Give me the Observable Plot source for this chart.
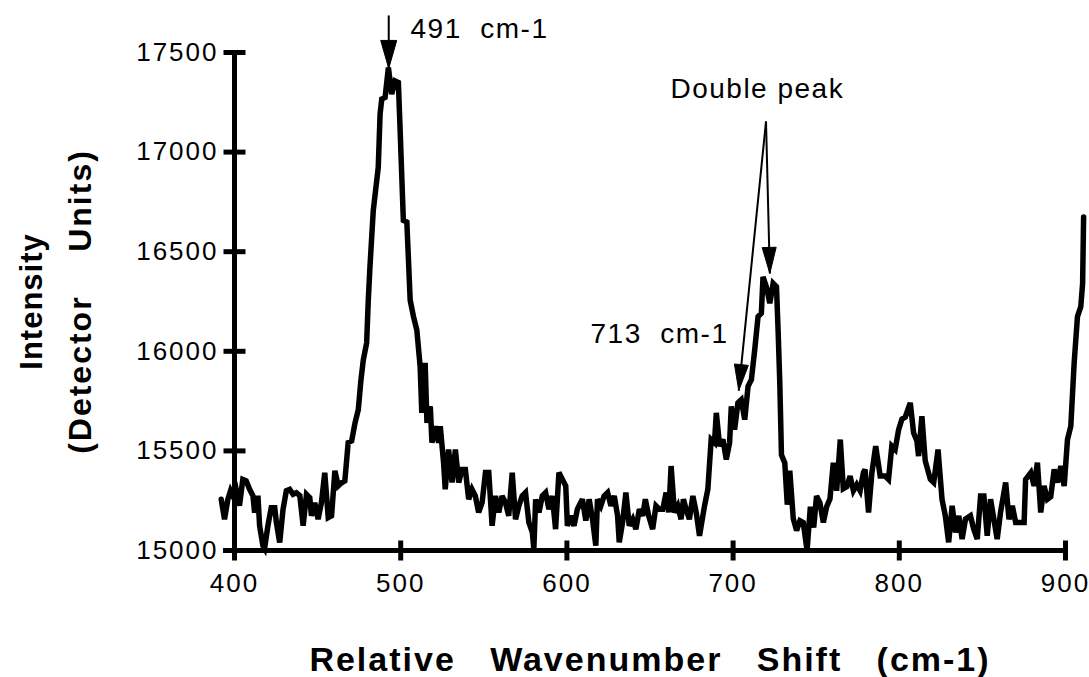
<!DOCTYPE html>
<html><head><meta charset="utf-8">
<script src="https://cdn.jsdelivr.net/npm/d3@7"></script>
<script src="https://cdn.jsdelivr.net/npm/@observablehq/plot@0.6"></script>
<style>body{margin:0;background:#fff;}</style>
</head><body><div id="chart"></div>
<script>
const wavenumber = [
392.0,394.0,396.0,397.6,399.0,401.0,403.0,405.0,407.0,409.1,
411.1,412.1,414.1,415.1,417.1,418.1,420.1,422.1,424.2,425.2,
427.2,429.2,431.2,433.2,435.2,437.2,439.3,441.3,443.3,445.3,
446.3,448.3,450.3,452.3,454.3,456.4,458.4,460.4,462.4,464.4,
466.4,468.4,470.5,472.5,474.5,476.0,477.5,479.5,480.5,481.5,
483.5,486.5,487.6,488.6,490.6,492.6,494.6,496.6,498.6,499.6,
501.6,503.7,505.7,507.7,509.7,511.7,512.7,514.7,515.8,517.8,
518.8,520.8,522.8,523.8,525.8,526.8,528.8,530.9,532.9,534.9,
536.9,538.9,540.9,542.9,544.9,546.9,549.0,551.0,553.0,555.0,
557.0,559.0,561.0,563.0,565.0,567.1,569.1,571.1,573.1,575.1,
577.1,579.2,580.1,581.2,583.2,585.2,587.2,589.2,591.2,593.2,
595.2,597.3,599.3,600.3,602.3,604.3,606.3,609.3,611.4,613.4,
615.4,617.4,618.4,620.4,622.4,624.5,626.5,628.5,630.5,631.5,
633.5,635.5,637.5,639.6,641.5,643.6,645.6,647.2,649.2,651.6,
653.6,655.6,657.7,659.7,661.3,662.7,664.7,666.7,668.7,670.1,
671.7,673.7,675.8,677.8,679.8,682.8,684.8,686.8,688.8,689.9,
691.9,693.9,695.9,697.9,698.9,700.9,702.9,704.9,707.0,709.0,
711.0,713.0,715.0,717.0,718.0,720.0,722.1,724.1,726.1,727.1,
728.1,729.1,731.1,732.6,734.1,736.2,738.2,740.2,742.2,744.5,
746.5,748.5,750.2,752.2,754.3,756.3,758.3,760.3,762.3,764.5,
766.3,768.4,770.4,772.4,774.4,776.4,778.4,779.4,781.5,783.5,
785.8,788.5,791.5,793.5,795.5,797.5,799.6,801.6,803.6,806.6,
808.6,810.6,811.6,813.6,815.6,818.7,820.7,823.3,825.7,827.7,
829.7,831.8,833.8,835.8,837.8,839.8,842.8,844.8,846.9,848.9,
850.9,852.9,854.9,856.9,858.9,860.9,864.0,866.0,868.0,870.0,
872.0,875.1,876.0,879.1,881.1,883.1,885.1,887.1,889.1,891.1,
893.2,895.2,897.2,899.2,901.2,903.2,905.2,907.2,909.2,910.3,
910.9];
const intensity = [
15257,15157,15257,15300,15275,15307,15225,15357,15350,15307,
15275,15190,15275,15124,15024,15010,15124,15215,15215,15140,
15040,15207,15300,15307,15282,15290,15275,15124,15282,15265,
15174,15240,15157,15240,15390,15165,15174,15400,15324,15340,
15350,15542,15550,15640,15707,15850,15957,16042,16257,16424,
16707,16924,17191,17266,17274,17424,17291,17357,17349,17124,
16657,16649,16257,16174,16107,15924,15691,15942,15641,15724,
15541,15624,15541,15624,15441,15307,15507,15341,15507,15341,
15407,15407,15257,15307,15274,15191,15241,15391,15391,15124,
15274,15191,15274,15241,15174,15391,15157,15224,15274,15291,
15141,15091,15007,15257,15191,15274,15291,15207,15274,15107,
15391,15357,15324,15124,15174,15124,15207,15257,15150,15257,
15157,15024,15257,15224,15274,15291,15224,15274,15174,15041,
15141,15291,15124,15157,15107,15207,15174,15257,15174,15107,
15224,15207,15207,15291,15191,15424,15191,15224,15157,15257,
15207,15157,15274,15191,15074,15224,15307,15557,15541,15691,
15524,15557,15457,15541,15724,15607,15741,15757,15657,15824,
15857,16007,16174,16191,16374,16324,16241,16341,16324,16100,
15841,15480,15440,15230,15400,15160,15100,15150,15141,15000,
15220,15115,15274,15240,15141,15220,15260,15441,15300,15557,
15310,15320,15374,15300,15330,15300,15391,15407,15191,15390,
15524,15374,15374,15357,15524,15507,15607,15660,15670,15741,
15591,15550,15474,15674,15450,15357,15341,15507,15257,15174,
15041,15224,15091,15174,15057,15157,15174,15107,15057,15274,
15274,15074,15257,15157,15057,15191,15341,15157,15224,15141,
15141,15141,15357,15391,15324,15441,15191,15324,15257,15270,
15407,15341,15424,15324,15557,15624,15941,16174,16224,16341,
16674];

const xTicks = [400, 500, 600, 700, 800, 900];
const yTicks = [15000, 15500, 16000, 16500, 17000, 17500];
const xAxisStart = 393.4;
const xTitle = "Relative   Wavenumber   Shift   (cm-1)";
const yTitle1 = "Intensity";
const yTitle2 = "(Detector    Units)";
const noteText = ["491  cm-1", "Double peak", "713  cm-1"];
const noteX = [505.9, 662.3, 614.2];
const noteY = [17620, 17319, 16089];
const arrowX1 = [492.8, 719.8, 719.8];
const arrowY1 = [17686, 17154, 17154];
const arrowX2 = [492.8, 703.4, 722.1];
const arrowY2 = [17420, 15803, 16391];
const headLen = [28, 26, 26];
const headWid = [16, 14, 14];

const W = 1089, H = 677;
const mL = 234, mR = 24, mT = 52, mB = 127;
const xDomain = [400, 900], yDomain = [15000, 17500];
const sx = d3.scaleLinear(xDomain, [mL, W - mR]);
const sy = d3.scaleLinear(yDomain, [H - mB, mT]);
const nb = s => s.replace(/ /g, "\u00a0");
const font = "Liberation Sans, Arial, Helvetica, sans-serif";

const spectrum = wavenumber.map((v, i) => ({v, I: intensity[i]}));
const notes = noteText.map((t, i) => ({t: nb(t), x: noteX[i], y: noteY[i]}));
const arrows = arrowX1.map((_, i) => ({x1: arrowX1[i], y1: arrowY1[i], x2: arrowX2[i], y2: arrowY2[i], L: headLen[i], w: headWid[i]}));

const hbar = {draw(ctx) { ctx.moveTo(-11, 0); ctx.lineTo(11, 0); }};
const vbar = {draw(ctx) { ctx.moveTo(0, -10); ctx.lineTo(0, 10); }};
function headSymbol(a) {
  const dx = sx(a.x2) - sx(a.x1), dy = sy(a.y2) - sy(a.y1);
  const n = Math.hypot(dx, dy), ux = dx / n, uy = dy / n;
  const L = a.L, w = a.w / 2;
  return {draw(ctx) {
    ctx.moveTo(0, 0);
    ctx.lineTo(-L * ux + w * uy, -L * uy - w * ux);
    ctx.lineTo(-L * ux - w * uy, -L * uy + w * ux);
    ctx.closePath();
  }};
}

const plot = Plot.plot({
  width: W, height: H,
  marginLeft: mL, marginRight: mR, marginTop: mT, marginBottom: mB,
  x: {domain: xDomain, axis: null},
  y: {domain: yDomain, axis: null},
  style: {fontFamily: font, color: "black", background: "white", overflow: "visible"},
  marks: [
    Plot.ruleY([yDomain[0]], {x1: xAxisStart, x2: xDomain[1], stroke: "black", strokeWidth: 5}),
    Plot.ruleX([xDomain[0]], {y1: yDomain[0], y2: yDomain[1], stroke: "black", strokeWidth: 5}),
    Plot.dot(yTicks, {x: xDomain[0], y: d => d, symbol: hbar, stroke: "black", strokeWidth: 5, fill: "none"}),
    Plot.dot(xTicks, {x: d => d, y: yDomain[0], symbol: vbar, stroke: "black", strokeWidth: 5, fill: "none"}),
    Plot.line(spectrum, {x: "v", y: "I", stroke: "black", strokeWidth: 5.5, strokeLinejoin: "miter", strokeMiterlimit: 3}),
    Plot.text(yTicks, {y: d => d, text: d => String(d), frameAnchor: "left", dx: -16, textAnchor: "end", fontSize: 26, fill: "black"}),
    Plot.text(xTicks, {x: d => d, text: d => String(d), frameAnchor: "bottom", dy: 33, lineAnchor: "middle", fontSize: 26, fill: "black"}),
    Plot.text([nb(xTitle)], {text: d => d, frameAnchor: "bottom", dy: 110, lineAnchor: "middle", textAnchor: "middle", fontSize: 34, fontWeight: "bold", fill: "black"}),
    Plot.text([nb(yTitle1)], {text: d => d, frameAnchor: "left", dx: -202, rotate: -90, textAnchor: "middle", lineAnchor: "middle", fontSize: 31, fontWeight: "bold", fill: "black"}),
    Plot.text([nb(yTitle2)], {text: d => d, frameAnchor: "left", dx: -154, rotate: -90, textAnchor: "middle", lineAnchor: "middle", fontSize: 32, fontWeight: "bold", fill: "black"}),
    Plot.text(notes, {x: "x", y: "y", text: "t", textAnchor: "start", lineAnchor: "middle", fontSize: 28, fill: "black"}),
    Plot.link(arrows, {x1: "x1", y1: "y1", x2: "x2", y2: "y2", stroke: "black", strokeWidth: 2}),
    ...arrows.map(a => Plot.dot([a], {x: "x2", y: "y2", symbol: headSymbol(a), fill: "black", stroke: "black", strokeWidth: 1}))
  ]
});
const spacing = {"26": "2px", "28": "1.5px", "34": "2px", "31": "1px", "32": "2px"};
plot.querySelectorAll("g[font-size]").forEach(g => {
  const s = spacing[g.getAttribute("font-size")];
  if (s) g.style.letterSpacing = s;
});
document.getElementById("chart").append(plot);
</script>
</body></html>
